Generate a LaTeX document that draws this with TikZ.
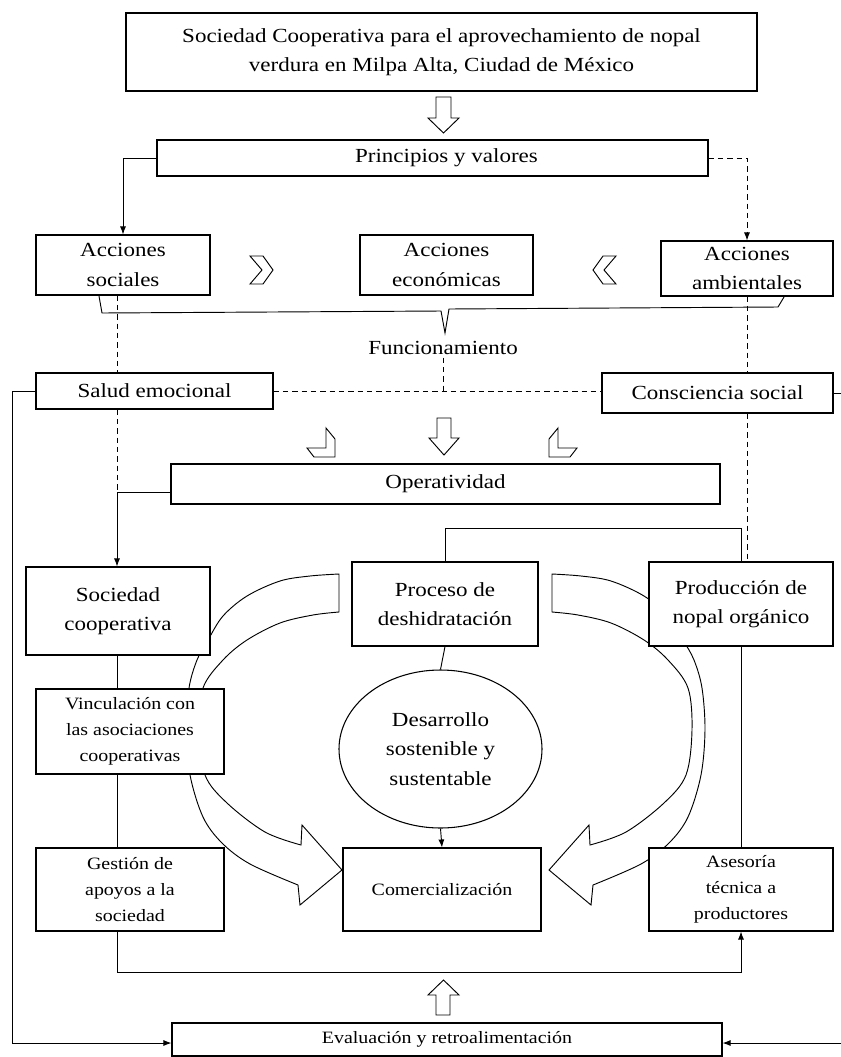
\documentclass[tikz,border=0pt]{standalone}
\usepackage{fontspec}
\setmainfont{Liberation Serif}[FakeStretch=1.15]
\usetikzlibrary{arrows.meta,shapes.geometric}
\tikzset{
  box/.style={draw, line width=0.8pt, fill=white, align=center, inner sep=1pt},
  big/.style={font=\fontsize{15}{22}\selectfont},
  small/.style={font=\fontsize{13}{19.5}\selectfont},
  conn/.style={line width=0.7pt},
  arr/.style={conn, -{Latex[length=6pt,width=4.5pt]}},
  dsh/.style={conn, dash pattern=on 4pt off 3pt},
  hollow/.style={draw, line width=0.7pt, fill=white, line join=miter},
}
\newcommand{\myCurvArrow}{%
  \draw[hollow, fill=none] plot[smooth, tension=0.55] coordinates {(339,574) (310,576) (280,581) (247,596) (223,616) (208,640) (197,660) (189,688) (186,730) (190,775) (203,817) (222,843) (250,864) (298,885)}
  -- (300,905) -- (342,870) -- (302,825) -- (301,845)
  -- plot[smooth, tension=0.55] coordinates {(301,845) (265,832) (227,803) (205,775) (199,730) (203,688) (223,660) (247,640) (280,623) (313,615) (339,612)} -- cycle;}
\begin{document}
\begin{tikzpicture}[x=0.75pt, y=-0.75pt]
\useasboundingbox (0,0) rectangle (841,1057);

% curved arrows (behind boxes)
\myCurvArrow
\begin{scope}[shift={(891,0)}, xscale=-1]
\myCurvArrow
\end{scope}

% hollow arrows
\draw[hollow] (436,97) -- (451,97) -- (451,118) -- (459,118) -- (443.5,133) -- (428,118) -- (436,118) -- cycle;
\draw[hollow] (437,418) -- (451,418) -- (451,438) -- (459,438) -- (444,455) -- (429,438) -- (437,438) -- cycle;
\draw[hollow] (436,1015) -- (450,1015) -- (450,995) -- (459,995) -- (443.5,980) -- (428,995) -- (436,995) -- cycle;
% chevrons
\draw[hollow] (250,256) -- (263,256) -- (273,270) -- (263,284) -- (250,284) -- (262,270) -- cycle;
\draw[hollow] (616,256) -- (603,256) -- (593,270) -- (603,284) -- (616,284) -- (604,270) -- cycle;
% bent arrows
\draw[hollow] (549,439) -- (558,428) -- (558,448) -- (577,448) -- (570,457) -- (549,457) -- cycle;
\draw[hollow] (335,439) -- (326,428) -- (326,448) -- (307,448) -- (314,457) -- (335,457) -- cycle;
% brace
\draw[conn] (99,296) -- (102,313) -- (441,311) -- (445,333) -- (449,309) -- (778,307) -- (784,297);

\coordinate (opc) at (117,492);
\coordinate (fbl) at (12,1043);
\coordinate (fbr) at (841,1043);

\node[box, big, minimum width=473.25pt, minimum height=58.5pt] (top) at (441.5,52) {Sociedad Cooperativa para el aprovechamiento de nopal\\verdura en Milpa Alta, Ciudad de México};
\node[box, big, minimum width=413.25pt, minimum height=27pt] (princ) at (432.5,158) {\hspace*{21pt}Principios y valores};
\node[box, big, minimum width=130.5pt, minimum height=45pt] (soc) at (123,265) {Acciones\\sociales};
\node[box, big, minimum width=129.75pt, minimum height=45pt] (eco) at (446.5,265) {Acciones\\económicas};
\node[box, big, minimum width=129pt, minimum height=41.25pt] (amb) at (747,268.5) {Acciones\\ambientales};
\node[big, inner sep=2pt] (func) at (443,348) {Funcionamiento};
\node[box, big, minimum width=177.75pt, minimum height=27pt] (salud) at (154.5,391) {Salud emocional};
\node[box, big, minimum width=173.25pt, minimum height=30pt] (consc) at (717.5,393) {Consciencia social};
\node[box, big, minimum width=411.75pt, minimum height=30pt] (oper) at (445.5,484) {Operatividad};
\node[box, big, minimum width=138pt, minimum height=66pt] (sc) at (118,611) {Sociedad\\cooperativa};
\node[box, big, minimum width=139.5pt, minimum height=63pt] (proc) at (445,604) {Proceso de\\deshidratación};
\node[box, big, minimum width=138pt, minimum height=63pt] (prod) at (741,604) {Producción de\\nopal orgánico};
\node[box, small, minimum width=141pt, minimum height=63.75pt] (vinc) at (130,731.5) {Vinculación con\\las asociaciones\\cooperativas};
\node[box, big, ellipse, minimum width=152.25pt, minimum height=118.5pt, inner sep=0pt] (ell) at (440.5,749) {Desarrollo\\sostenible y\\sustentable};
\node[box, small, minimum width=141pt, minimum height=62.25pt] (gest) at (130,889.5) {Gestión de\\apoyos a la\\sociedad};
\node[box, small, minimum width=148.5pt, minimum height=62.25pt] (comer) at (442,889.5) {Comercialización};
\node[box, small, minimum width=138pt, minimum height=62.25pt] (ases) at (741,889.5) {Asesoría\\técnica a\\productores};
\node[box, small, minimum width=412.5pt, minimum height=24.75pt] (eval) at (447,1039.5) {Evaluación y retroalimentación};

% connectors
\draw[arr] (princ.west) -| (soc.north);
\draw[arr, dsh] (princ.east) -| (amb.north);
\draw[dsh] (soc.south -| opc) -- (salud.north -| opc);
\draw[dsh] (salud.south -| opc) -- (opc);
\draw[arr] (oper.west |- opc) -- (opc) -- (opc |- sc.north);
\draw[dsh] (amb.south) -- (amb.south |- consc.north);
\draw[dsh] (amb.south |- consc.south) -- (amb.south |- prod.north);
\draw[conn] (proc.north) -- ++(0,-33) -| (prod.north);
\draw[dsh] (func.south) -- (func.south |- salud.east);
\draw[dsh] (salud.east) -- (salud.east -| consc.west);
\draw[arr] (salud.west) -- (salud.west -| fbl) -- (fbl) -- (fbl -| eval.west);
\draw[arr] (fbr) -- (fbr -| eval.east);
\draw[conn] (consc.east) -- (consc.east -| fbr);
\draw[conn] (opc |- sc.south) -- (opc |- vinc.north);
\draw[conn] (opc |- vinc.south) -- (opc |- gest.north);
\draw[conn] (prod.south) -- (ases.north);
\draw[arr] (opc |- gest.south) -- ++(0,41) -| (ases.south);
\draw[conn] (proc.south) -- (ell.north);
\draw[arr] (ell.south) -- (comer.north);
\end{tikzpicture}
\end{document}
